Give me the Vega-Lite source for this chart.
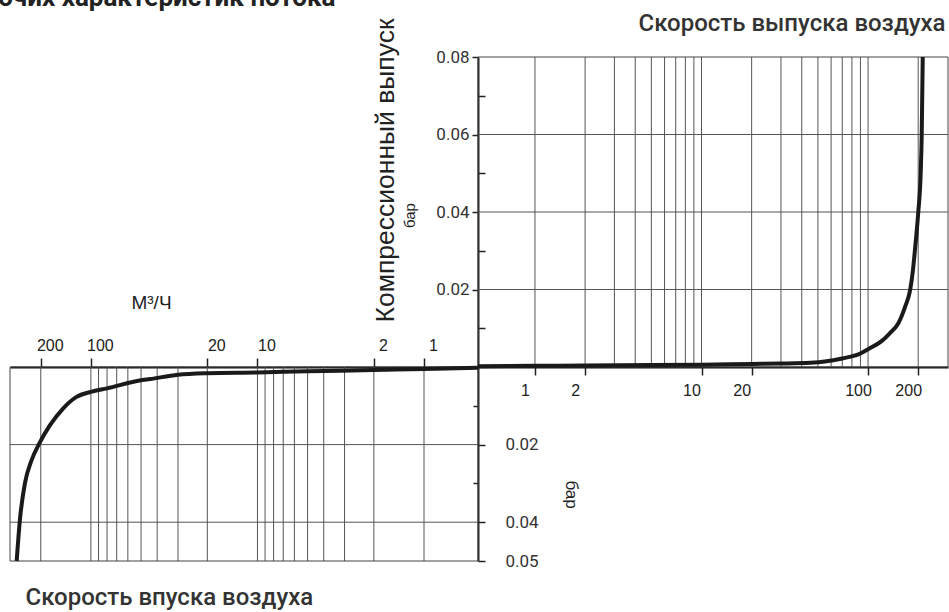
{
  "$schema": "https://vega.github.io/schema/vega-lite/v6.json",
  "width": 949,
  "height": 612,
  "padding": 0,
  "autosize": {"type": "none"},
  "config": {
    "view": {"stroke": null},
    "axis": {"grid": false, "labelFlush": false, "labelOverlap": false, "labelBound": false, "domainColor": "#222", "tickColor": "#222", "labelColor": "#222", "titleColor": "#222"}
  },
  "datasets": {
    "rightCurve": [
      {"v": 0.455, "p": 0.0002}, {"v": 1, "p": 0.0003}, {"v": 2, "p": 0.0004}, {"v": 5, "p": 0.0005},
      {"v": 10, "p": 0.0006}, {"v": 20, "p": 0.0008}, {"v": 30, "p": 0.0009}, {"v": 45, "p": 0.0011},
      {"v": 55, "p": 0.0014}, {"v": 70, "p": 0.0022}, {"v": 90, "p": 0.0035}, {"v": 100, "p": 0.0046},
      {"v": 120, "p": 0.0066}, {"v": 135, "p": 0.0087}, {"v": 152, "p": 0.0113}, {"v": 167, "p": 0.0156},
      {"v": 179, "p": 0.0199}, {"v": 186, "p": 0.025}, {"v": 192, "p": 0.031}, {"v": 200, "p": 0.0397},
      {"v": 207, "p": 0.05}, {"v": 210, "p": 0.06}, {"v": 213, "p": 0.08}
    ],
    "leftCurve": [
      {"v": 0.474, "p": 0.0002}, {"v": 1, "p": 0.0005}, {"v": 2, "p": 0.0008}, {"v": 5, "p": 0.0011},
      {"v": 10, "p": 0.0014}, {"v": 20, "p": 0.0016}, {"v": 30, "p": 0.002}, {"v": 44, "p": 0.0031},
      {"v": 51, "p": 0.0035}, {"v": 80, "p": 0.0055}, {"v": 100, "p": 0.0064}, {"v": 122, "p": 0.0077},
      {"v": 147, "p": 0.0107}, {"v": 176, "p": 0.015}, {"v": 204, "p": 0.0197}, {"v": 227, "p": 0.024},
      {"v": 249, "p": 0.03}, {"v": 267, "p": 0.0395}, {"v": 279, "p": 0.05}
    ],
    "gridV": [
      {"v": 1}, {"v": 2}, {"v": 3}, {"v": 4}, {"v": 5}, {"v": 6}, {"v": 7}, {"v": 8}, {"v": 9}, {"v": 10},
      {"v": 20}, {"v": 30}, {"v": 40}, {"v": 50}, {"v": 60}, {"v": 70}, {"v": 80}, {"v": 90}, {"v": 100}, {"v": 200}
    ],
    "rightH": [{"p": 0.02}, {"p": 0.04}, {"p": 0.06}],
    "leftH": [{"p": 0.02}, {"p": 0.04}],
    "rightFrame": [{"x0": 0.455, "x1": 302, "y0": 0, "y1": 0.08}],
    "leftFrame": [{"x0": 0.474, "x1": 306, "y0": 0, "y1": 0.05}]
  },
  "resolve": {"scale": {"x": "independent", "y": "independent"}, "axis": {"x": "independent", "y": "independent"}},
  "layer": [
    {
      "data": {"name": "gridV"},
      "mark": {"type": "rule", "color": "#555", "strokeWidth": 1},
      "encoding": {
        "x": {"field": "v", "type": "quantitative",
          "scale": {"type": "log", "domain": [0.455, 302], "range": [478, 948], "nice": false},
          "axis": {"orient": "bottom", "offset": -245, "values": [1, 2, 10, 20, 100, 200], "format": "d",
            "tickSize": 8, "tickWidth": 1.5, "domainWidth": 2, "domainColor": "#111", "labelPadding": 7, "labelOffset": -10,
            "labelFont": "Liberation Sans", "labelFontSize": 16, "labelAlign": "center",
            "title": "Скорость выпуска воздуха", "titleX": 945, "titleY": -337, "titleAlign": "right", "titleBaseline": "alphabetic",
            "titleAngle": 0, "titleFont": "Roboto", "titleFontSize": 24, "titleFontWeight": 500, "titleColor": "#333"}},
        "y": {"datum": 0, "type": "quantitative",
          "scale": {"domain": [0, 0.08], "range": [367, 57], "nice": false, "zero": false},
          "axis": {"orient": "left", "offset": -478, "values": [0.02, 0.04, 0.06, 0.08], "format": ".2f",
            "tickSize": 6, "tickWidth": 1.5, "domainWidth": 2, "labelPadding": 3, "labelFont": "Roboto", "labelFontSize": 17, "labelColor": "#333",
            "title": "Компрессионный выпуск", "titleAngle": -90, "titleX": -85, "titleY": 170, "titleAlign": "center", "titleBaseline": "alphabetic",
            "titleFont": "Liberation Sans", "titleFontSize": 26.5, "titleFontWeight": "normal"}},
        "y2": {"datum": 0.08}
      }
    },
    {
      "data": {"name": "rightH"},
      "mark": {"type": "rule", "color": "#555", "strokeWidth": 1},
      "encoding": {
        "y": {"field": "p", "type": "quantitative",
          "scale": {"domain": [0, 0.08], "range": [367, 57], "nice": false, "zero": false},
          "axis": {"orient": "right", "offset": -471, "values": [0.01, 0.03, 0.05, 0.07], "tickSize": 7, "tickWidth": 1.5,
            "labels": false, "domain": false,
            "title": "бар", "titleAngle": -90, "titleX": -64, "titleY": 215, "titleAlign": "center", "titleBaseline": "alphabetic",
            "titleFont": "Liberation Sans", "titleFontSize": 15, "titleFontWeight": "normal"}},
        "x": {"datum": 0.455, "type": "quantitative",
          "scale": {"type": "log", "domain": [0.455, 302], "range": [478, 948], "nice": false},
          "axis": {"orient": "top", "offset": 0, "ticks": false, "labels": false, "domain": false,
            "title": "Кривая рабочих характеристик потока", "titleX": 335, "titleY": 5, "titleAlign": "right", "titleBaseline": "alphabetic",
            "titleAngle": 0, "titleFont": "Roboto", "titleFontSize": 26, "titleFontWeight": "bold", "titleColor": "#222"}},
        "x2": {"datum": 302}
      }
    },
    {
      "data": {"name": "rightFrame"},
      "mark": {"type": "rect", "fillOpacity": 0, "stroke": "#444", "strokeWidth": 1},
      "encoding": {
        "x": {"field": "x0", "type": "quantitative", "scale": {"type": "log", "domain": [0.455, 302], "range": [478, 948], "nice": false}, "axis": null},
        "x2": {"field": "x1"},
        "y": {"field": "y0", "type": "quantitative", "scale": {"domain": [0, 0.08], "range": [367, 57], "nice": false, "zero": false}, "axis": null},
        "y2": {"field": "y1"}
      }
    },
    {
      "data": {"name": "gridV"},
      "mark": {"type": "rule", "color": "#555", "strokeWidth": 1},
      "encoding": {
        "x": {"field": "v", "type": "quantitative",
          "scale": {"type": "log", "domain": [0.474, 306], "range": [478, 10], "nice": false},
          "axis": {"orient": "top", "offset": -367, "values": [1, 2, 10, 20, 100, 200], "format": "d",
            "tickSize": 9, "tickWidth": 1.5, "domainWidth": 2, "domainColor": "#111", "labelPadding": 5, "labelOffset": 9,
            "labelFont": "Liberation Sans", "labelFontSize": 16, "labelAlign": "center",
            "title": "М³/Ч", "titleX": 151, "titleY": -59, "titleAlign": "center", "titleBaseline": "alphabetic", "titleAngle": 0,
            "titleFont": "Liberation Sans", "titleFontSize": 19, "titleFontWeight": "normal"}},
        "y": {"datum": 0, "type": "quantitative",
          "scale": {"domain": [0, 0.05], "range": [367, 561], "nice": false, "zero": false},
          "axis": {"orient": "right", "offset": -471, "values": [0.02, 0.04, 0.05], "format": ".2f",
            "tickSize": 7, "tickWidth": 1.5, "domainWidth": 2, "labelPadding": 20, "labelFont": "Roboto", "labelFontSize": 17, "labelColor": "#333",
            "title": "бар", "titleAngle": 90, "titleX": 92, "titleY": 494, "titleAlign": "center", "titleBaseline": "middle",
            "titleFont": "Liberation Sans", "titleFontSize": 17, "titleFontWeight": "normal"}},
        "y2": {"datum": 0.05}
      }
    },
    {
      "data": {"name": "leftH"},
      "mark": {"type": "rule", "color": "#555", "strokeWidth": 1},
      "encoding": {
        "y": {"field": "p", "type": "quantitative",
          "scale": {"domain": [0, 0.05], "range": [367, 561], "nice": false, "zero": false},
          "axis": {"orient": "left", "offset": -478, "values": [0.01, 0.03], "tickSize": 5, "tickWidth": 1.5, "labels": false, "domain": false,
            "title": "Скорость впуска воздуха", "titleAngle": 0, "titleX": -453, "titleY": 604, "titleAlign": "left", "titleBaseline": "alphabetic",
            "titleFont": "Roboto", "titleFontSize": 24, "titleFontWeight": 500, "titleColor": "#333"}},
        "x": {"datum": 0.474, "type": "quantitative",
          "scale": {"type": "log", "domain": [0.474, 306], "range": [478, 10], "nice": false}, "axis": null},
        "x2": {"datum": 306}
      }
    },
    {
      "data": {"name": "leftFrame"},
      "mark": {"type": "rect", "fillOpacity": 0, "stroke": "#444", "strokeWidth": 1},
      "encoding": {
        "x": {"field": "x0", "type": "quantitative", "scale": {"type": "log", "domain": [0.474, 306], "range": [478, 10], "nice": false}, "axis": null},
        "x2": {"field": "x1"},
        "y": {"field": "y0", "type": "quantitative", "scale": {"domain": [0, 0.05], "range": [367, 561], "nice": false, "zero": false}, "axis": null},
        "y2": {"field": "y1"}
      }
    },
    {
      "data": {"name": "rightCurve"},
      "mark": {"type": "line", "color": "#1a1a1a", "strokeWidth": 4, "interpolate": "monotone"},
      "encoding": {
        "x": {"field": "v", "type": "quantitative", "scale": {"type": "log", "domain": [0.455, 302], "range": [478, 948], "nice": false}, "axis": null},
        "y": {"field": "p", "type": "quantitative", "scale": {"domain": [0, 0.08], "range": [367, 57], "nice": false, "zero": false}, "axis": null}
      }
    },
    {
      "data": {"name": "leftCurve"},
      "mark": {"type": "line", "color": "#1a1a1a", "strokeWidth": 4, "interpolate": "monotone"},
      "encoding": {
        "x": {"field": "v", "type": "quantitative", "scale": {"type": "log", "domain": [0.474, 306], "range": [478, 10], "nice": false}, "axis": null},
        "y": {"field": "p", "type": "quantitative", "scale": {"domain": [0, 0.05], "range": [367, 561], "nice": false, "zero": false}, "axis": null}
      }
    }
  ]
}
